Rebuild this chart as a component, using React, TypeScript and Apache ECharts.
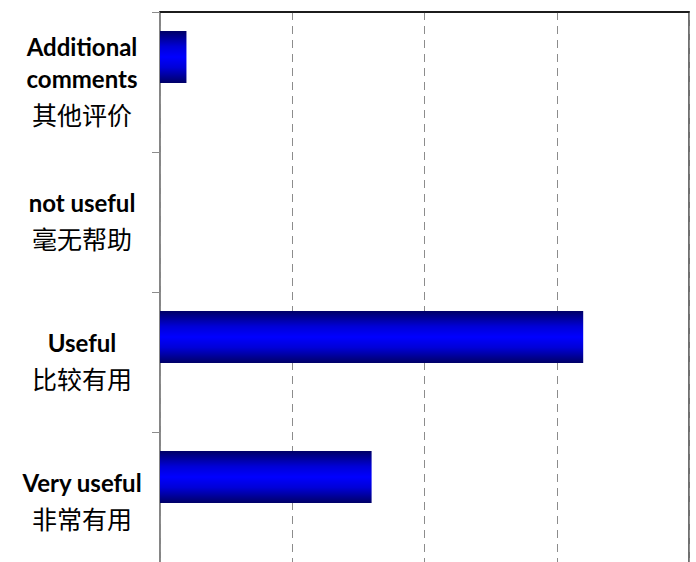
import React, { useEffect, useRef } from "react";
import * as echarts from "echarts";

const categoriesEn = ["Very useful", "Useful", "not useful", "Additional\ncomments"];
const categoriesZh = ["非常有用", "比较有用", "毫无帮助", "其他评价"];
const responses = [8, 16, 0, 1];
const emptySeries = ["-", "-", "-", "-"];
const axisMin = 0;
const axisMax = 20;
const axisStep = 5;

export default function App() {
  const ref = useRef<HTMLDivElement>(null);
  useEffect(() => {
    if (!ref.current) return;
    const chart = echarts.init(ref.current, null, { renderer: "svg" });
    const grad = new echarts.graphic.LinearGradient(0, 0, 0, 1, [
      { offset: 0, color: "#000066" },
      { offset: 0.3, color: "#0000d8" },
      { offset: 0.5, color: "#0000ff" },
      { offset: 0.7, color: "#0000d8" },
      { offset: 1, color: "#000066" },
    ]);
    chart.setOption({
      animation: false,
      backgroundColor: "#ffffff",
      grid: {
        left: 160,
        right: 7,
        top: 12,
        bottom: 0,
        containLabel: false,
        outerBoundsMode: "none",
        show: true,
        borderColor: "#707070",
        borderWidth: 2,
        backgroundColor: "transparent",
      },
      xAxis: {
        type: "value",
        position: "top",
        min: axisMin,
        max: axisMax,
        interval: axisStep,
        axisLine: { show: true, lineStyle: { color: "#000000", width: 1.5 } },
        axisTick: { show: false },
        axisLabel: { show: false },
        splitLine: {
          show: true,
          lineStyle: { color: "#8c8c8c", type: [8, 6], width: 1 },
        },
      },
      yAxis: {
        type: "category",
        data: categoriesEn.map((e, i) => e + " " + categoriesZh[i]),
        axisLine: { show: true, lineStyle: { color: "#8c8c8c", width: 1.5 } },
        axisTick: { show: true, length: 8, lineStyle: { color: "#8c8c8c" } },
        axisLabel: {
          margin: 78,
          align: "center",
          formatter: (_v: string, i: number) => {
            const en = categoriesEn[i].split("\n").map((s) => `{b|${s}}`).join("\n");
            return `${en}\n{c|${categoriesZh[i]}}`;
          },
          rich: {
            b: {
              fontFamily: "Lato",
              fontWeight: "bold",
              fontSize: 24,
              color: "#000000",
              lineHeight: 32,
            },
            c: {
              fontFamily: "Noto Sans CJK SC",
              fontSize: 25,
              color: "#000000",
              lineHeight: 40,
            },
          },
        },
      },
      series: [
        {
          type: "bar",
          name: "responses",
          data: responses,
          barWidth: 52,
          barGap: "-4%",
          itemStyle: { color: grad },
        },
        {
          type: "bar",
          name: "blank",
          data: emptySeries,
          barWidth: 52,
          barGap: "-4%",
        },
      ],
    });
    return () => chart.dispose();
  }, []);
  return (
    <div style={{ width: 696, height: 562, position: "absolute", left: 0, top: 0, overflow: "hidden" }}>
      <div ref={ref} style={{ width: 696, height: 572 }} />
    </div>
  );
}
